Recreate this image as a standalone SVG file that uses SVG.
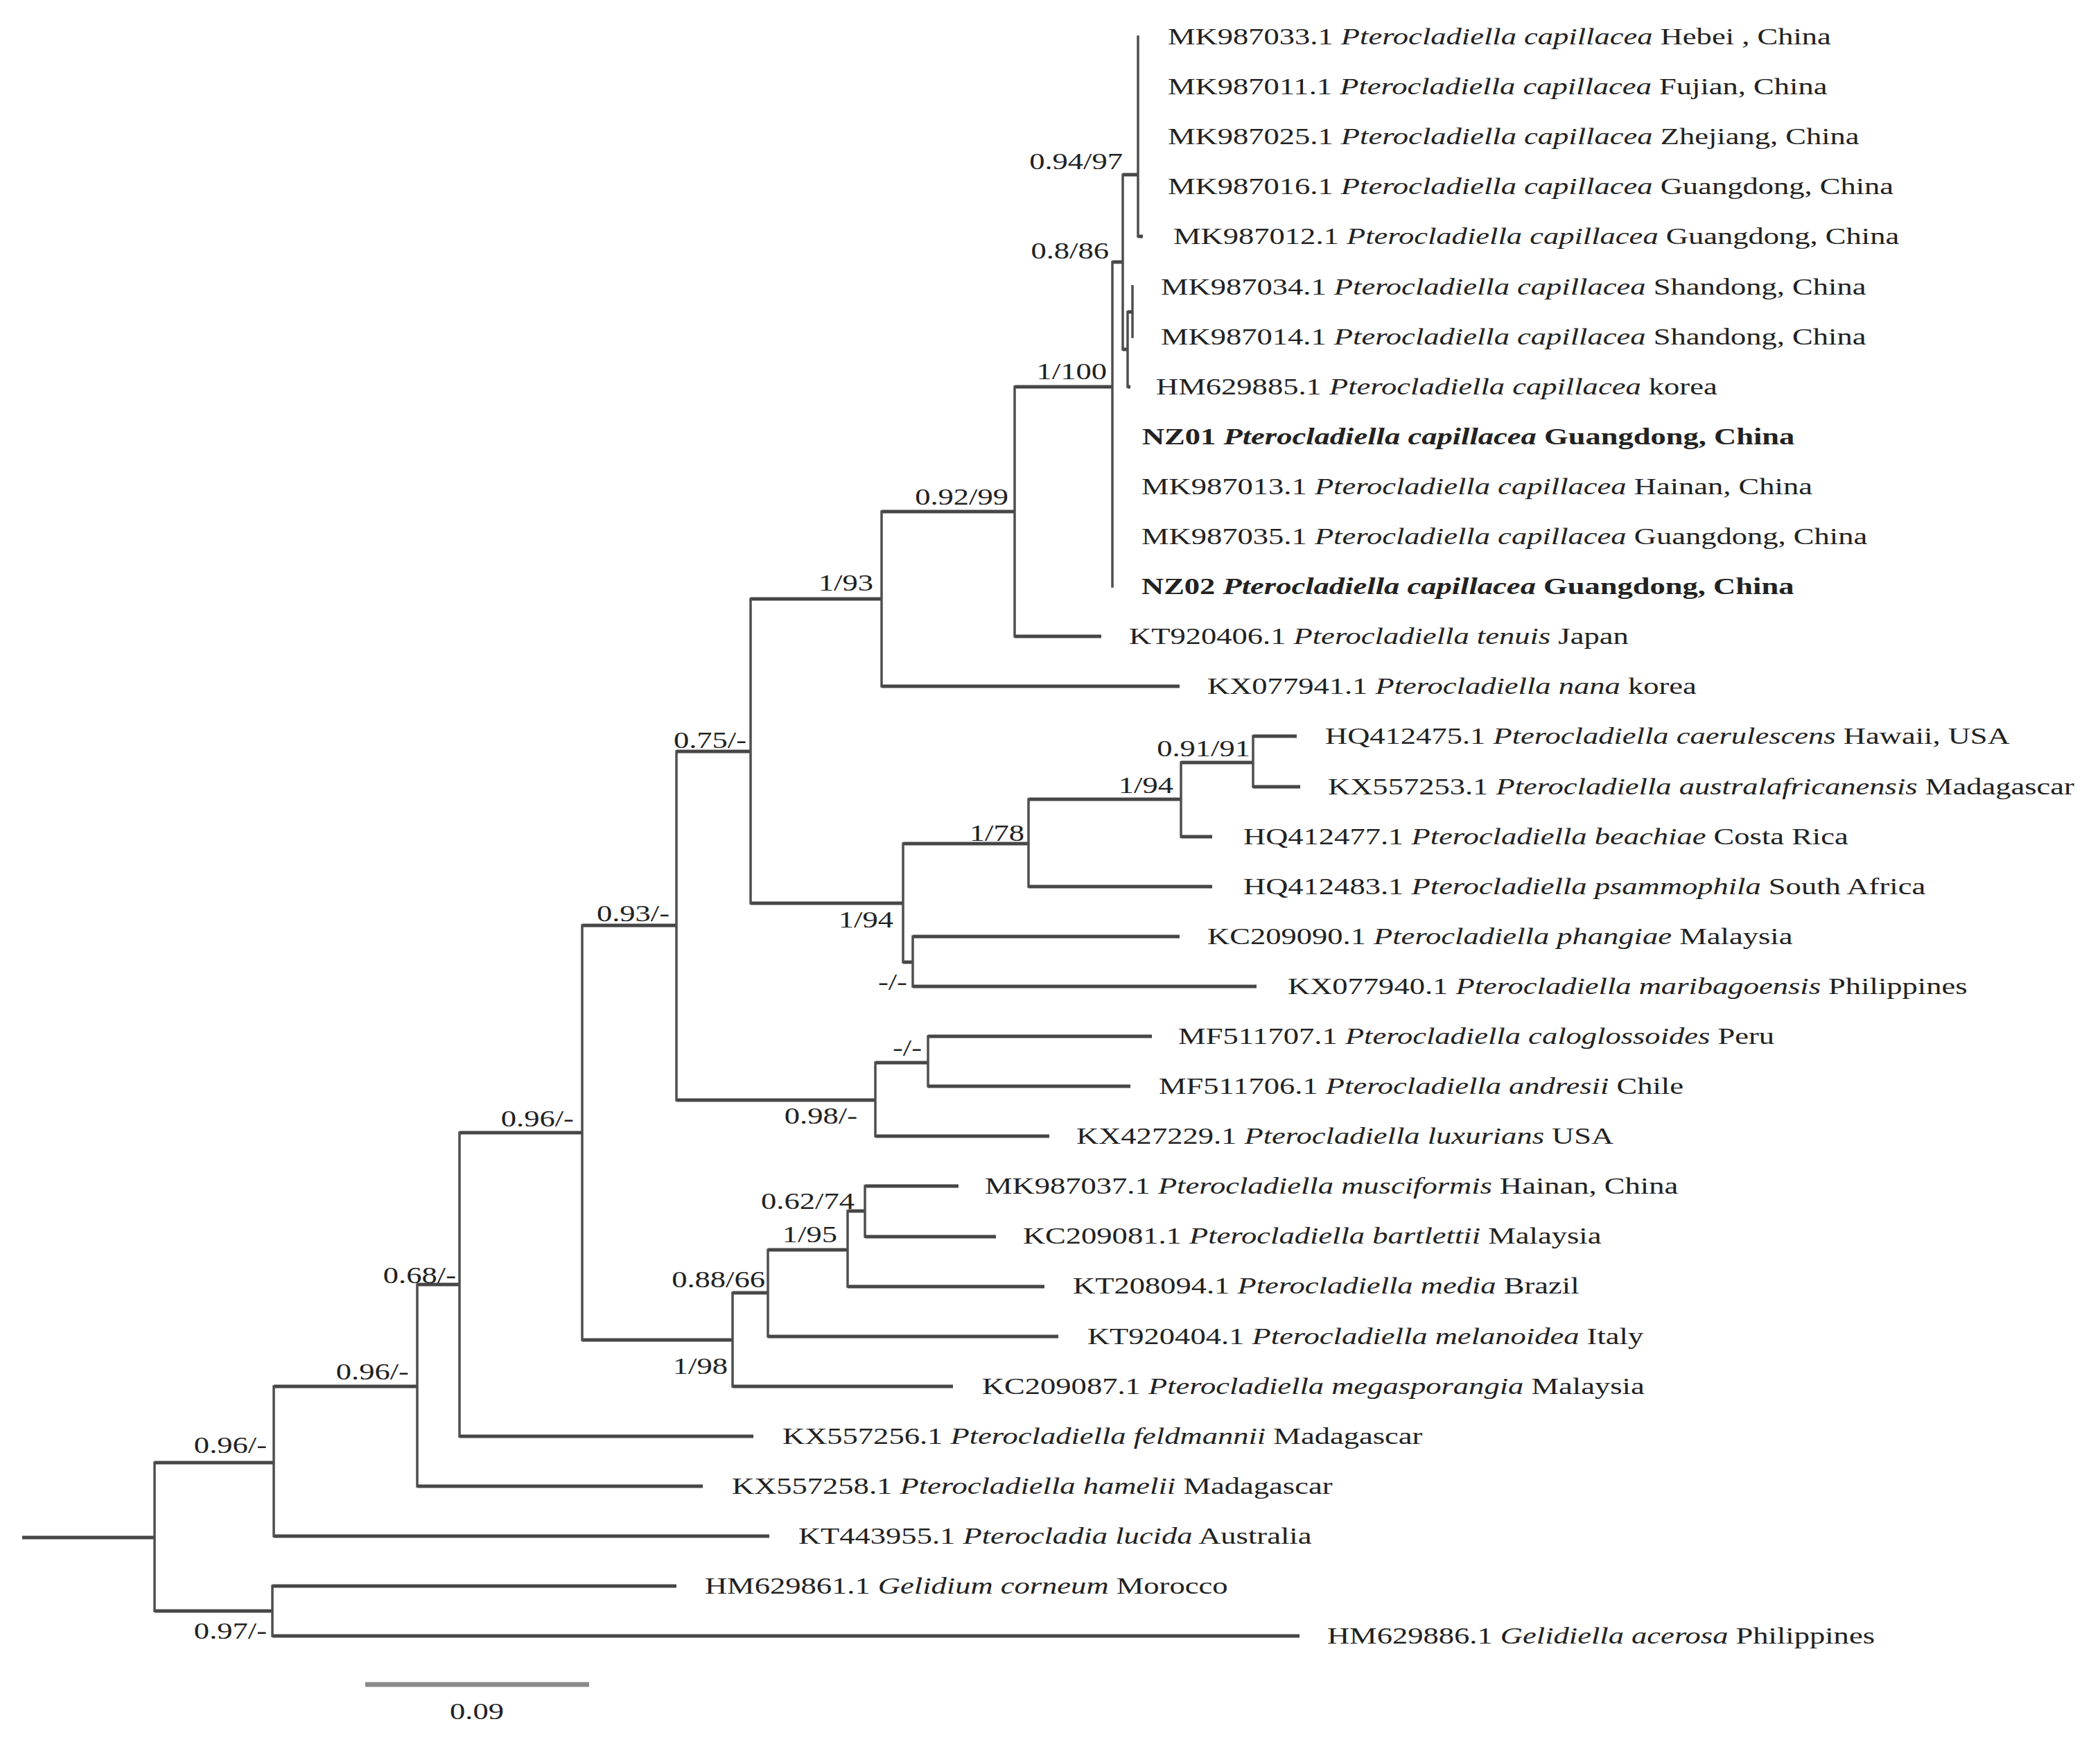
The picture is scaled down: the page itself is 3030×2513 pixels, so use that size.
<svg xmlns="http://www.w3.org/2000/svg" width="3030" height="2513" viewBox="0 0 3030 2513">
<style>
.bg{fill:#ffffff}
.h{stroke:#464646;stroke-width:5;fill:none;stroke-linecap:butt}
.v{stroke:#4e4e4e;stroke-width:3.5;fill:none;stroke-linecap:square}
.sb{stroke:#8a8a8a;stroke-width:7;fill:none}
text{font-family:"Liberation Serif","Times New Roman",serif;font-size:33px;fill:#222222}
.i{font-style:italic}
.b{font-weight:bold}
.s{text-anchor:end}
.m{text-anchor:middle}
</style>
<rect class="bg" x="0" y="0" width="3030" height="2513"/>
<g id="connectors">
<path class="h" d="M32 2218H223"/>
<path class="h" d="M223 2110H395"/>
<path class="h" d="M223 2324H393"/>
<path class="h" d="M393 2288H976"/>
<path class="h" d="M393 2360H1875"/>
<path class="h" d="M395 2000H602"/>
<path class="h" d="M395 2216H1110"/>
<path class="h" d="M602 1853H663"/>
<path class="h" d="M602 2144H1014"/>
<path class="h" d="M663 1634H840"/>
<path class="h" d="M663 2072H1087"/>
<path class="h" d="M840 1335H976"/>
<path class="h" d="M840 1933H1057"/>
<path class="h" d="M1057 1865H1108"/>
<path class="h" d="M1057 2000H1375"/>
<path class="h" d="M1108 1803H1223"/>
<path class="h" d="M1108 1928H1527"/>
<path class="h" d="M1223 1747H1248"/>
<path class="h" d="M1223 1856H1507"/>
<path class="h" d="M1248 1711H1383"/>
<path class="h" d="M1248 1784H1437"/>
<path class="h" d="M976 1084H1083"/>
<path class="h" d="M976 1587H1263"/>
<path class="h" d="M1263 1533H1339"/>
<path class="h" d="M1263 1639H1514"/>
<path class="h" d="M1339 1495H1662"/>
<path class="h" d="M1339 1567H1631"/>
<path class="h" d="M1083 864H1272"/>
<path class="h" d="M1083 1303H1303"/>
<path class="h" d="M1303 1217H1484"/>
<path class="h" d="M1303 1388H1317"/>
<path class="h" d="M1317 1351H1702"/>
<path class="h" d="M1317 1423H1813"/>
<path class="h" d="M1484 1153H1704"/>
<path class="h" d="M1484 1279H1749"/>
<path class="h" d="M1704 1100H1808"/>
<path class="h" d="M1704 1207H1749"/>
<path class="h" d="M1808 1062H1871"/>
<path class="h" d="M1808 1135H1876"/>
<path class="h" d="M1272 738H1464"/>
<path class="h" d="M1272 990H1702"/>
<path class="h" d="M1464 558H1605"/>
<path class="h" d="M1464 918H1589"/>
<path class="h" d="M1605 378H1620"/>
<path class="h" d="M1620 252H1642"/>
<path class="h" d="M1620 504H1627"/>
<path class="h" d="M1627 450H1634"/>
<path class="h" d="M1642 341H1649"/>
<path class="h" d="M1627 558H1631"/>
<path class="v" d="M223 2110V2324"/>
<path class="v" d="M393 2288V2360"/>
<path class="v" d="M395 2000V2216"/>
<path class="v" d="M602 1853V2144"/>
<path class="v" d="M663 1634V2072"/>
<path class="v" d="M840 1335V1933"/>
<path class="v" d="M1057 1865V2000"/>
<path class="v" d="M1108 1803V1928"/>
<path class="v" d="M1223 1747V1856"/>
<path class="v" d="M1248 1711V1784"/>
<path class="v" d="M976 1084V1587"/>
<path class="v" d="M1263 1533V1639"/>
<path class="v" d="M1339 1495V1567"/>
<path class="v" d="M1083 864V1303"/>
<path class="v" d="M1303 1217V1388"/>
<path class="v" d="M1317 1351V1423"/>
<path class="v" d="M1484 1153V1279"/>
<path class="v" d="M1704 1100V1207"/>
<path class="v" d="M1808 1062V1135"/>
<path class="v" d="M1272 738V990"/>
<path class="v" d="M1464 558V918"/>
<path class="v" d="M1605 378V846"/>
<path class="v" d="M1620 252V504"/>
<path class="v" d="M1642 53V341"/>
<path class="v" d="M1627 450V558"/>
<path class="v" d="M1634 413V486"/>
</g>
<g id="scalebar">
<path class="sb" d="M527 2430H850"/>
<text class="m" x="509.6" y="2480" transform="scale(1.35 1)">0.09</text>
</g>
<g id="nodes" transform="scale(1.35 1)">
<g id="tip-MK987033"><text x="1248.1" y="64">MK987033.1 <tspan class="i">Pterocladiella capillacea</tspan> Hebei , China</text></g>
<g id="tip-MK987011"><text x="1248.1" y="136">MK987011.1 <tspan class="i">Pterocladiella capillacea</tspan> Fujian, China</text></g>
<g id="tip-MK987025"><text x="1248.1" y="208">MK987025.1 <tspan class="i">Pterocladiella capillacea</tspan> Zhejiang, China</text></g>
<g id="tip-MK987016"><text x="1248.1" y="280">MK987016.1 <tspan class="i">Pterocladiella capillacea</tspan> Guangdong, China</text></g>
<g id="tip-MK987012"><text x="1254.1" y="352">MK987012.1 <tspan class="i">Pterocladiella capillacea</tspan> Guangdong, China</text></g>
<g id="tip-MK987034"><text x="1240.7" y="425">MK987034.1 <tspan class="i">Pterocladiella capillacea</tspan> Shandong, China</text></g>
<g id="tip-MK987014"><text x="1240.7" y="497">MK987014.1 <tspan class="i">Pterocladiella capillacea</tspan> Shandong, China</text></g>
<g id="tip-HM629885"><text x="1235.6" y="569">HM629885.1 <tspan class="i">Pterocladiella capillacea</tspan> korea</text></g>
<g id="tip-NZ01"><text class="b" x="1220.7" y="641">NZ01 <tspan class="i">Pterocladiella capillacea</tspan> Guangdong, China</text></g>
<g id="tip-MK987013"><text x="1220" y="713">MK987013.1 <tspan class="i">Pterocladiella capillacea</tspan> Hainan, China</text></g>
<g id="tip-MK987035"><text x="1220" y="785">MK987035.1 <tspan class="i">Pterocladiella capillacea</tspan> Guangdong, China</text></g>
<g id="tip-NZ02"><text class="b" x="1220" y="857">NZ02 <tspan class="i">Pterocladiella capillacea</tspan> Guangdong, China</text></g>
<g id="tip-KT920406"><text x="1206.7" y="929">KT920406.1 <tspan class="i">Pterocladiella tenuis</tspan> Japan</text></g>
<g id="tip-KX077941"><text x="1290.4" y="1001">KX077941.1 <tspan class="i">Pterocladiella nana</tspan> korea</text></g>
<g id="tip-HQ412475"><text x="1416.3" y="1073">HQ412475.1 <tspan class="i">Pterocladiella caerulescens</tspan> Hawaii, USA</text></g>
<g id="tip-KX557253"><text x="1419.3" y="1146">KX557253.1 <tspan class="i">Pterocladiella australafricanensis</tspan> Madagascar</text></g>
<g id="tip-HQ412477"><text x="1328.9" y="1218">HQ412477.1 <tspan class="i">Pterocladiella beachiae</tspan> Costa Rica</text></g>
<g id="tip-HQ412483"><text x="1328.9" y="1290">HQ412483.1 <tspan class="i">Pterocladiella psammophila</tspan> South Africa</text></g>
<g id="tip-KC209090"><text x="1290.4" y="1362">KC209090.1 <tspan class="i">Pterocladiella phangiae</tspan> Malaysia</text></g>
<g id="tip-KX077940"><text x="1376.3" y="1434">KX077940.1 <tspan class="i">Pterocladiella maribagoensis</tspan> Philippines</text></g>
<g id="tip-MF511707"><text x="1259.3" y="1506">MF511707.1 <tspan class="i">Pterocladiella caloglossoides</tspan> Peru</text></g>
<g id="tip-MF511706"><text x="1238.5" y="1578">MF511706.1 <tspan class="i">Pterocladiella andresii</tspan> Chile</text></g>
<g id="tip-KX427229"><text x="1150.4" y="1650">KX427229.1 <tspan class="i">Pterocladiella luxurians</tspan> USA</text></g>
<g id="tip-MK987037"><text x="1052.6" y="1722">MK987037.1 <tspan class="i">Pterocladiella musciformis</tspan> Hainan, China</text></g>
<g id="tip-KC209081"><text x="1093.3" y="1794">KC209081.1 <tspan class="i">Pterocladiella bartlettii</tspan> Malaysia</text></g>
<g id="tip-KT208094"><text x="1146.7" y="1866">KT208094.1 <tspan class="i">Pterocladiella media</tspan> Brazil</text></g>
<g id="tip-KT920404"><text x="1162.2" y="1939">KT920404.1 <tspan class="i">Pterocladiella melanoidea</tspan> Italy</text></g>
<g id="tip-KC209087"><text x="1049.6" y="2011">KC209087.1 <tspan class="i">Pterocladiella megasporangia</tspan> Malaysia</text></g>
<g id="tip-KX557256"><text x="836.3" y="2083">KX557256.1 <tspan class="i">Pterocladiella feldmannii</tspan> Madagascar</text></g>
<g id="tip-KX557258"><text x="782.2" y="2155">KX557258.1 <tspan class="i">Pterocladiella hamelii</tspan> Madagascar</text></g>
<g id="tip-KT443955"><text x="853.3" y="2227">KT443955.1 <tspan class="i">Pterocladia lucida</tspan> Australia</text></g>
<g id="tip-HM629861"><text x="753.3" y="2299">HM629861.1 <tspan class="i">Gelidium corneum</tspan> Morocco</text></g>
<g id="tip-HM629886"><text x="1418.5" y="2371">HM629886.1 <tspan class="i">Gelidiella acerosa</tspan> Philippines</text></g>
<g id="node-n094"><text class="s" x="1200" y="244">0.94/97</text></g>
<g id="node-n8b"><text class="s" x="1185.2" y="373">0.8/86</text></g>
<g id="node-n8a"><text class="s" x="1183" y="547">1/100</text></g>
<g id="node-n8"><text class="s" x="1077.8" y="728">0.92/99</text></g>
<g id="node-n7"><text class="s" x="933.3" y="852">1/93</text></g>
<g id="node-n6"><text class="s" x="797.8" y="1079">0.75/-</text></g>
<g id="node-n5"><text class="s" x="715.6" y="1329">0.93/-</text></g>
<g id="node-n4"><text class="s" x="613.3" y="1625">0.96/-</text></g>
<g id="node-n3"><text class="s" x="487.4" y="1851">0.68/-</text></g>
<g id="node-n2"><text class="s" x="437" y="1990">0.96/-</text></g>
<g id="node-n1"><text class="s" x="285.2" y="2096">0.96/-</text></g>
<g id="node-b"><text class="s" x="285.2" y="2364">0.97/-</text></g>
<g id="node-n15"><text class="s" x="1336.3" y="1091">0.91/91</text></g>
<g id="node-n14"><text class="s" x="1254.1" y="1144">1/94</text></g>
<g id="node-n12"><text class="s" x="1094.8" y="1213">1/78</text></g>
<g id="node-n11"><text class="s" x="954.8" y="1338">1/94</text></g>
<g id="node-n13"><text class="s" x="969.6" y="1428">-/-</text></g>
<g id="node-n16"><text class="s" x="985.2" y="1523">-/-</text></g>
<g id="node-n9"><text class="s" x="916.3" y="1621">0.98/-</text></g>
<g id="node-n19"><text class="s" x="913.3" y="1744">0.62/74</text></g>
<g id="node-n18"><text class="s" x="894.8" y="1792">1/95</text></g>
<g id="node-n17"><text class="s" x="817.8" y="1857">0.88/66</text></g>
<g id="node-n10"><text class="s" x="777.8" y="1982">1/98</text></g>
</g>
</svg>
